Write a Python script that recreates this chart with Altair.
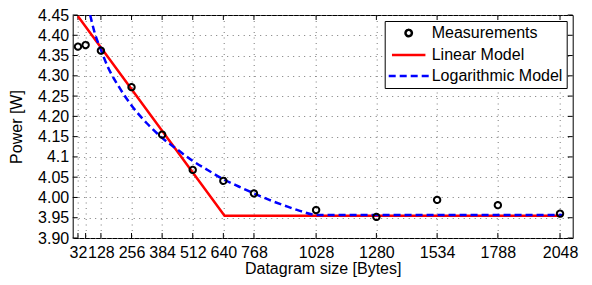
import json
import altair as alt
import pandas as pd

# ---------------- data ----------------
series_names = ["Measurements", "Linear Model", "Logarithmic Model"]

meas_size = [32, 64, 128, 256, 384, 512, 640, 768, 1028, 1280, 1534, 1788, 2048]
meas_power = [4.372, 4.376, 4.362, 4.272, 4.155, 4.068, 4.041, 4.010, 3.969, 3.952, 3.994, 3.981, 3.960]

lin_size = [32, 645, 2058]
lin_power = [4.447, 3.955, 3.955]

log_size = [83, 100, 128, 160, 200, 256, 320, 384, 448, 512, 576, 640, 704, 768, 832, 896, 960, 1028, 2058]
log_power = [4.45, 4.41, 4.364, 4.318, 4.276, 4.227, 4.183, 4.147, 4.118, 4.09, 4.067, 4.045, 4.027,
             4.01, 3.994, 3.98, 3.967, 3.957, 3.957]

x_tick_values = [32, 64, 128, 256, 384, 512, 640, 768, 1028, 1280, 1534, 1788, 2048]
x_tick_labels = ["32", "", "128", "256", "384", "512", "640", "768", "1028", "1280", "1534", "1788", "2048"]
y_tick_values = [3.90, 3.95, 4.00, 4.05, 4.10, 4.15, 4.20, 4.25, 4.30, 4.35, 4.40, 4.45]
y_tick_labels = ["3.90", "3.95", "4.00", "4.05", "4.1", "4.15", "4.20", "4.25", "4.30", "4.35", "4.40", "4.45"]

x_domain = [10, 2101]
y_domain = [3.90, 4.45]

# ---------------- layout ----------------
W, H = 500, 223
FONT = "Liberation Sans"
FS = 16

df_meas = pd.DataFrame({"size": meas_size, "power": meas_power, "series": series_names[0]})
df_lin = pd.DataFrame({"size": lin_size, "power": lin_power})
df_log = pd.DataFrame({"size": log_size, "power": log_power})
df_xt = pd.DataFrame({"size": x_tick_values})
df_yt = pd.DataFrame({"power": y_tick_values})

x_label_expr = f"{json.dumps(x_tick_labels)}[indexof({json.dumps(x_tick_values)}, datum.value)]"
y_label_expr = f"{json.dumps(y_tick_labels)}[indexof({json.dumps(y_tick_values)}, datum.value)]"

xscale = alt.Scale(domain=x_domain, nice=False, zero=False)
yscale = alt.Scale(domain=y_domain, nice=False, zero=False)

X = alt.X("size:Q", scale=xscale, title="Datagram size [Bytes]",
          axis=alt.Axis(values=x_tick_values, labelExpr=x_label_expr, labelOverlap=False,
                        labelFlush=False, tickSize=0, labelPadding=6, titlePadding=0,
                        grid=True, domain=False))
Y = alt.Y("power:Q", scale=yscale, title="Power [W]",
          axis=alt.Axis(values=y_tick_values, labelExpr=y_label_expr, labelOverlap=False,
                        labelFlush=False, tickSize=0, labelPadding=4, titlePadding=13,
                        grid=True, domain=False))

leg = alt.Legend(title=None, orient="top-right", offset=6, fillColor="white", strokeColor="black",
                 padding=4, labelFont=FONT, labelFontSize=FS, symbolStrokeWidth=2.5,
                 rowPadding=5, symbolOffset=12, labelOffset=15, labelLimit=0)

LINE_SYMBOL = "M-4,0H4"
color_scale = alt.Scale(domain=series_names, range=["black", "#ff0000", "#0000ff"])
shape_scale = alt.Scale(domain=series_names, range=["circle", LINE_SYMBOL, LINE_SYMBOL])
dash_scale = alt.Scale(domain=series_names, range=[[1, 0], [1, 0], [7, 4]])
size_scale = alt.Scale(domain=series_names, range=[40, 100, 100])

linear = alt.Chart(df_lin).mark_line(color="#ff0000", strokeWidth=2.5, clip=True).encode(x=X, y=Y)
logm = alt.Chart(df_log).mark_line(color="#0000ff", strokeWidth=2.5, strokeDash=[7, 4],
                                   clip=True, interpolate="monotone").encode(x=X, y=Y)
points = alt.Chart(df_meas).mark_point(filled=False, strokeWidth=2, opacity=1).encode(
    x=X, y=Y,
    color=alt.Color("series:N", scale=color_scale, legend=leg),
    shape=alt.Shape("series:N", scale=shape_scale, legend=leg),
    strokeDash=alt.StrokeDash("series:N", scale=dash_scale, legend=leg),
    size=alt.Size("series:N", scale=size_scale, legend=leg),
)

# inward tick marks on all four sides
tick_bottom = alt.Chart(df_xt).mark_rule(color="black", strokeWidth=1).encode(
    x=X, y=alt.value(H), y2=alt.value(H - 5))
tick_top = alt.Chart(df_xt).mark_rule(color="black", strokeWidth=1).encode(
    x=X, y=alt.value(0), y2=alt.value(5))
tick_left = alt.Chart(df_yt).mark_rule(color="black", strokeWidth=1).encode(
    y=Y, x=alt.value(0), x2=alt.value(5))
tick_right = alt.Chart(df_yt).mark_rule(color="black", strokeWidth=1).encode(
    y=Y, x=alt.value(W), x2=alt.value(W - 5))

chart = alt.layer(tick_bottom, tick_top, tick_left, tick_right, linear, logm, points).properties(
    width=W, height=H,
    autosize=alt.AutoSizeParams(type="none"),
    padding={"left": 64.7, "top": 7, "right": 11.3, "bottom": 39},
).configure(
    background="white"
).configure_view(
    stroke="black", strokeWidth=1
).configure_axis(
    labelFont=FONT, labelFontSize=FS, labelColor="black",
    titleFont=FONT, titleFontSize=FS, titleFontWeight="normal", titleColor="black",
    gridColor="#777", gridDash=[1, 4.5], gridOpacity=1, gridWidth=1,
)

chart.save("out.html", embed_options={"renderer": "svg", "actions": False})
